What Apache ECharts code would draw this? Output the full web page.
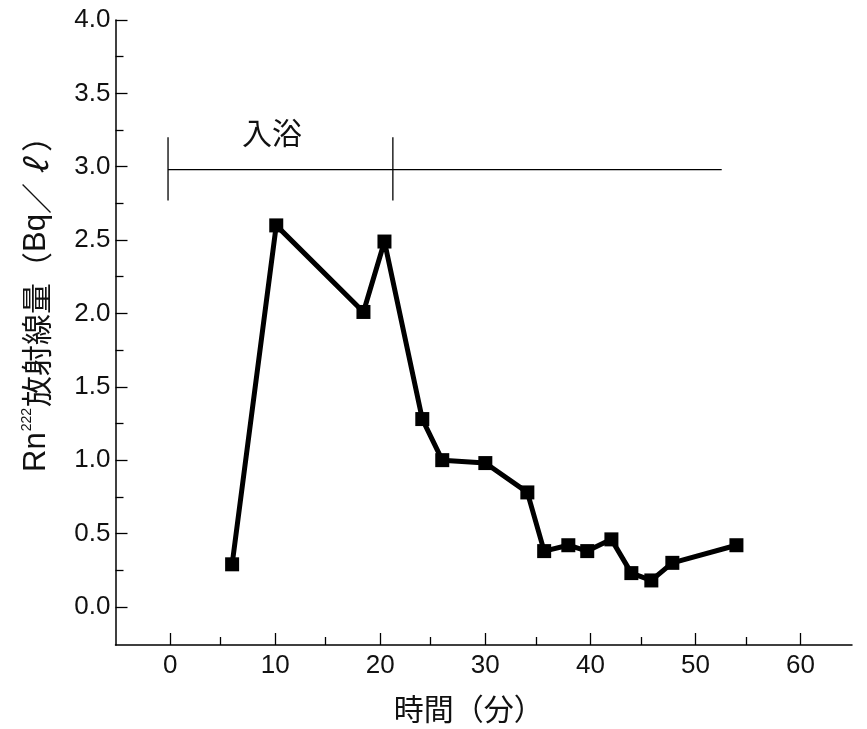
<!DOCTYPE html>
<html>
<head>
<meta charset="utf-8">
<script src="https://cdn.jsdelivr.net/npm/echarts@6/dist/echarts.min.js"></script>
<style>
html,body{margin:0;padding:0;background:#fff;}
#chart{width:867px;height:729px;}
</style>
</head>
<body>
<div id="chart"></div>
<script>
// ---- data ----
const timeMin = [5.9, 10.1, 18.4, 20.4, 24.0, 25.9, 30.0, 34.0, 35.6, 37.9, 39.7, 42.0, 43.9, 45.8, 47.8, 53.9];
const rnValues = [0.29, 2.60, 2.01, 2.49, 1.28, 1.00, 0.98, 0.78, 0.38, 0.42, 0.38, 0.46, 0.23, 0.18, 0.30, 0.42];

const xMajorTicks = [0, 10, 20, 30, 40, 50, 60];
const xMinorTicks = [4.8, 14.8, 24.8, 34.8, 44.8, 54.8];
const yMajorTicks = [0, 0.5, 1.0, 1.5, 2.0, 2.5, 3.0, 3.5, 4.0];
const yMinorTicks = [0.25, 0.75, 1.25, 1.75, 2.25, 2.75, 3.25, 3.75];

// bathing period bracket
const bathStart = -0.2;
const bathEnd = 21.2;
const bracketLineEnd = 52.5;
const bracketLevel = 2.98;
const bracketTickLow = 2.77;
const bracketTickHigh = 3.2;
const bathLabel = '入浴';
const bathLabelPos = [9.7, 3.23];

const xName = '時間（分）';
const yName = 'Rn{sup|222}{cjk|放射線量（}Bq{cjk|／}{ell|ℓ}{cjk|）}';

// ---- chart ----
const FONT = '"Liberation Sans", "Noto Sans CJK JP", sans-serif';
const CJK = '"Noto Sans CJK JP", sans-serif';
const TXT = '#111';
const chart = echarts.init(document.getElementById('chart'));

const xRange = { min: -5.2, max: 64.9 };
const yRange = { min: -0.26, max: 4.0 };

const bracketSeries = [
  [[bathStart, bracketLevel], [bracketLineEnd, bracketLevel]],
  [[bathStart, bracketTickLow], [bathStart, bracketTickHigh]],
  [[bathEnd, bracketTickLow], [bathEnd, bracketTickHigh]]
].map(d => ({
  type: 'line', data: d, symbol: 'none', silent: true,
  lineStyle: { color: '#000', width: 1.3 }, z: 1
}));

chart.setOption({
  animation: false,
  backgroundColor: '#fff',
  grid: { left: 115.5, right: 15, top: 20, bottom: 83, containLabel: false },
  xAxis: [
    {
      type: 'value', min: xRange.min, max: xRange.max,
      name: xName, nameLocation: 'middle', nameGap: 49,
      nameTextStyle: { fontSize: 30, fontFamily: CJK, color: TXT, padding: [0, 30, 0, 0] },
      axisLine: { show: true, onZero: false, lineStyle: { color: '#000', width: 1.5 } },
      axisTick: { show: true, inside: true, length: 12, customValues: xMajorTicks, lineStyle: { color: '#000', width: 1.3 } },
      axisLabel: { show: true, customValues: xMajorTicks, fontSize: 26, fontFamily: FONT, color: TXT, margin: 8 },
      splitLine: { show: false }
    },
    {
      type: 'value', min: xRange.min, max: xRange.max, position: 'bottom',
      axisLine: { show: false, onZero: false },
      axisTick: { show: true, inside: true, length: 8, customValues: xMinorTicks, lineStyle: { color: '#000', width: 1.3 } },
      axisLabel: { show: false },
      splitLine: { show: false }
    }
  ],
  yAxis: [
    {
      type: 'value', min: yRange.min, max: yRange.max,
      name: yName, nameLocation: 'middle', nameGap: 64,
      nameTextStyle: {
        fontSize: 31, fontFamily: FONT, color: TXT, padding: [0, 0, 0, 72],
        rich: {
          sup: { fontSize: 14, fontFamily: FONT, color: TXT, verticalAlign: 'top', padding: [0, 1, 16, 1] },
          cjk: { fontSize: 31, fontFamily: CJK, color: TXT },
          ell: { fontSize: 31, fontFamily: CJK, color: TXT, width: 31, align: 'center', fontStyle: 'italic' }
        }
      },
      axisLine: { show: true, onZero: false, lineStyle: { color: '#000', width: 1.5 } },
      axisTick: { show: true, inside: true, length: 12, customValues: yMajorTicks, lineStyle: { color: '#000', width: 1.3 } },
      axisLabel: { show: true, customValues: yMajorTicks, fontSize: 26, fontFamily: FONT, color: TXT, margin: 5,
        formatter: v => v.toFixed(1) },
      splitLine: { show: false }
    },
    {
      type: 'value', min: yRange.min, max: yRange.max, position: 'left',
      axisLine: { show: false, onZero: false },
      axisTick: { show: true, inside: true, length: 8, customValues: yMinorTicks, lineStyle: { color: '#000', width: 1.3 } },
      axisLabel: { show: false },
      splitLine: { show: false }
    }
  ],
  series: [
    ...bracketSeries,
    {
      type: 'scatter', data: [bathLabelPos], symbolSize: 0, silent: true,
      itemStyle: { opacity: 1 },
      label: { show: true, position: 'inside', formatter: () => bathLabel,
        fontSize: 30, fontFamily: CJK, color: TXT, opacity: 1 }
    },
    {
      type: 'line',
      data: timeMin.map((t, i) => [t, rnValues[i]]),
      symbol: 'rect', symbolSize: 14, showAllSymbol: true,
      lineStyle: { color: '#000', width: 5 },
      itemStyle: { color: '#000' },
      z: 5
    }
  ]
});
</script>
</body>
</html>
